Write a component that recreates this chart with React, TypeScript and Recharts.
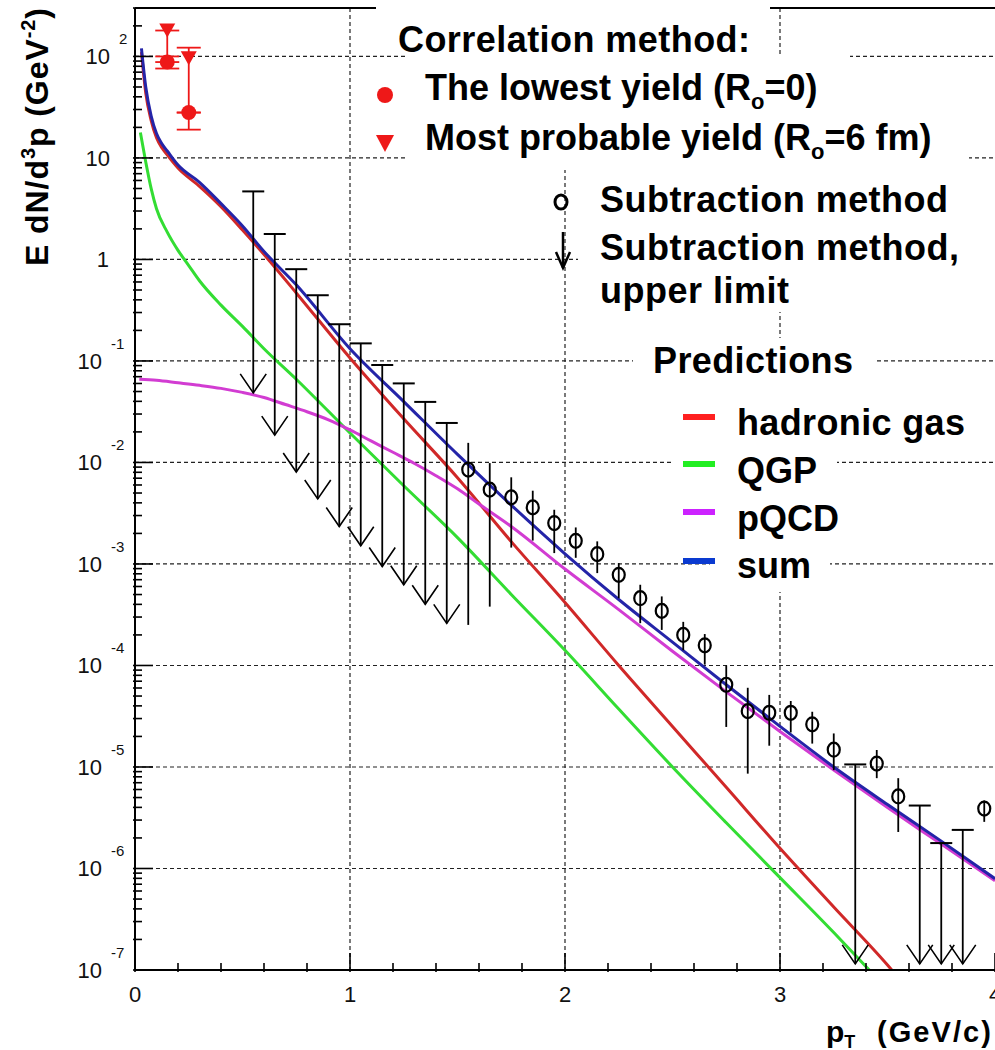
import React from 'react';
import {
  ComposedChart,
  Line,
  Scatter,
  ErrorBar,
  XAxis,
  YAxis,
  CartesianGrid,
  ReferenceLine,
} from 'recharts';

const W = 995;
const H = 1050;
const FONT = '"Liberation Sans", Arial, Helvetica, sans-serif';

// predictions: E dN/d^3p (GeV^-2) vs pT (GeV/c)
const hadronicPt = [0.03, 0.05, 0.075, 0.1, 0.125, 0.15, 0.2, 0.3, 0.4, 0.5, 0.62, 0.75, 1.0, 1.25, 1.5, 1.75, 2.0, 2.25, 2.5, 2.75, 3.0, 3.25, 3.5, 3.52];
const hadronicVal = [110, 43.6, 23.4, 15.8, 12.6, 10.7, 7.94, 5.25, 3.31, 1.95, 1.0, 0.468, 0.107, 0.0269, 0.00708, 0.00166, 4.17e-4, 1.0e-4, 2.51e-5, 6.31e-6, 1.58e-6, 4.17e-7, 1.12e-7, 1.0e-7];

const qgpPt = [0.025, 0.05, 0.075, 0.1, 0.15, 0.2, 0.25, 0.3, 0.4, 0.5, 0.6, 0.75, 1.0, 1.25, 1.5, 1.75, 2.0, 2.25, 2.5, 2.75, 3.0, 3.25, 3.415];
const qgpVal = [17.8, 9.12, 5.01, 3.16, 1.86, 1.23, 0.871, 0.617, 0.355, 0.219, 0.132, 0.0661, 0.0195, 0.00589, 0.00182, 5.01e-4, 1.41e-4, 3.72e-5, 1.0e-5, 2.82e-6, 8.13e-7, 2.34e-7, 1.0e-7];

const pqcdPt = [0.02, 0.1, 0.2, 0.3, 0.4, 0.5, 0.6, 0.7, 0.8, 0.9, 1.0, 1.1, 1.2, 1.3, 1.4, 1.5, 1.6, 1.75, 2.0, 2.25, 2.5, 2.75, 3.0, 3.25, 3.5, 3.75, 4.0];
const pqcdVal = [0.0661, 0.0646, 0.061, 0.0575, 0.0537, 0.049, 0.0437, 0.0372, 0.0316, 0.0263, 0.0209, 0.0162, 0.0126, 0.00977, 0.00741, 0.0055, 0.00389, 0.00234, 8.91e-4, 3.55e-4, 1.38e-4, 5.5e-5, 2.24e-5, 9.33e-6, 3.98e-6, 1.74e-6, 7.59e-7];

const sumPt = [0.03, 0.05, 0.075, 0.1, 0.125, 0.15, 0.2, 0.3, 0.4, 0.5, 0.6, 0.75, 1.0, 1.25, 1.5, 1.75, 2.0, 2.25, 2.5, 2.75, 3.0, 3.25, 3.5, 3.75, 4.0];
const sumVal = [120, 50, 26, 17.4, 13.8, 11.7, 8.5, 5.75, 3.55, 2.14, 1.2, 0.562, 0.132, 0.0398, 0.012, 0.0038, 0.00126, 4.47e-4, 1.7e-4, 6.46e-5, 2.51e-5, 1.0e-5, 4.27e-6, 1.86e-6, 7.94e-7];

// subtraction method (open circles), with error bar ends
const subPt = [1.55, 1.65, 1.75, 1.85, 1.95, 2.05, 2.15, 2.25, 2.35, 2.45, 2.55, 2.65, 2.75, 2.85, 2.95, 3.05, 3.15, 3.25, 3.45, 3.55, 3.95];
const subVal = [8.51e-3, 5.4e-3, 4.53e-3, 3.61e-3, 2.53e-3, 1.69e-3, 1.25e-3, 7.82e-4, 4.6e-4, 3.45e-4, 2.0e-4, 1.58e-4, 6.46e-5, 3.55e-5, 3.42e-5, 3.42e-5, 2.63e-5, 1.48e-5, 1.08e-5, 5.13e-6, 3.89e-6];
const subLow = [2.51e-4, 3.8e-4, 1.45e-3, 1.7e-3, 1.28e-3, 1.15e-3, 8.13e-4, 4.6e-4, 2.61e-4, 2.24e-4, 1.41e-4, 1.02e-4, 2.48e-5, 8.6e-6, 1.62e-5, 2.19e-5, 1.7e-5, 9.3e-6, 7.76e-6, 2.29e-6, 2.88e-6];
const subHigh = [1.56e-2, 9.86e-3, 7.14e-3, 5.27e-3, 3.42e-3, 2.29e-3, 1.67e-3, 1.02e-3, 6.24e-4, 4.79e-4, 2.69e-4, 2.04e-4, 1.0e-4, 6.03e-5, 5.13e-5, 4.47e-5, 3.5e-5, 2.14e-5, 1.47e-5, 7.76e-6, 4.68e-6];

// subtraction method, upper limits (cap value and arrow tip)
const ulPt = [0.55, 0.65, 0.75, 0.85, 0.95, 1.05, 1.15, 1.25, 1.35, 1.45, 3.35, 3.65, 3.75, 3.85];
const ulTop = [4.68, 1.78, 0.802, 0.444, 0.23, 0.149, 0.0912, 0.0601, 0.0395, 0.0245, 1.06e-5, 4.17e-6, 1.78e-6, 2.4e-6];
const ulTip = [0.0485, 0.0186, 8.05e-3, 4.37e-3, 2.34e-3, 1.51e-3, 9.44e-4, 6.24e-4, 4.01e-4, 2.6e-4, 1.15e-7, 1.15e-7, 1.15e-7, 1.15e-7];

// correlation method
const corrPt = [0.15, 0.25];
const lowestVal = [88, 28];
const lowestLow = [76, 19];
const lowestHigh = [100, 28];
const probableVal = [180, 96];
const probableLow = [88, 28];
const probableHigh = [180, 122];

const xTicks = [0, 0.2, 0.4, 0.6, 0.8, 1, 1.2, 1.4, 1.6, 1.8, 2, 2.2, 2.4, 2.6, 2.8, 3, 3.2, 3.4, 3.6, 3.8, 4];
const xGrid = [1, 2, 3];
const yDecades = [1e-7, 1e-6, 1e-5, 1e-4, 1e-3, 1e-2, 1e-1, 1, 10, 100];
const yMantissa = [1, 2, 3, 4, 5, 6, 7, 8, 9];
const yTicks = yDecades
  .flatMap((d) => yMantissa.map((m) => Number((m * d).toPrecision(3))))
  .filter((v) => v <= 300);

const toLine = (pt: number[], val: number[]) => pt.map((x, i) => ({ x, y: val[i] }));
const toPoints = (pt: number[], val: number[], low: number[], high: number[]) =>
  pt.map((x, i) => ({ x, y: val[i], err: [val[i] - low[i], high[i] - val[i]] }));

const hadronic = toLine(hadronicPt, hadronicVal);
const qgp = toLine(qgpPt, qgpVal);
const pqcd = toLine(pqcdPt, pqcdVal);
const sum = toLine(sumPt, sumVal);
const subtraction = toPoints(subPt, subVal, subLow, subHigh);
const limitCaps = ulPt.map((x, i) => ({ x, y: ulTop[i], err: [ulTop[i] - ulTip[i], 0] }));
const limitTips = ulPt.map((x, i) => ({ x, y: ulTip[i] }));
const lowest = toPoints(corrPt, lowestVal, lowestLow, lowestHigh);
const probable = toPoints(corrPt, probableVal, probableLow, probableHigh);

const RED = '#ee1818';

const XTick = (props: any) => {
  const { x, y, payload } = props;
  const v = payload.value;
  const major = Math.abs(v - Math.round(v)) < 1e-6;
  return (
    <g>
      <line x1={x} y1={y} x2={x} y2={y - (major ? 19 : 9)} stroke="#000" strokeWidth={1.6} />
      {major && (
        <text x={x} y={y + 30} textAnchor="middle" fontSize={22} fontFamily={FONT} fill="#111">
          {Math.round(v)}
        </text>
      )}
    </g>
  );
};

const YTick = (props: any) => {
  const { x, y, payload } = props;
  const v = payload.value;
  const k = Math.floor(Math.log10(v) + 1e-6);
  const m = Math.round(v / Math.pow(10, k));
  const major = m === 1;
  let label = null;
  if (major) {
    if (k === 0) {
      label = (
        <text x={x - 24} y={y + 8} textAnchor="end" fontSize={22} fontFamily={FONT} fill="#111">1</text>
      );
    } else if (k === 1) {
      label = (
        <text x={x - 23} y={y + 8} textAnchor="end" fontSize={22} fontFamily={FONT} fill="#111">10</text>
      );
    } else {
      const neg = k < 0;
      label = (
        <g>
          <text x={x - (neg ? 31 : 23)} y={y + 8} textAnchor="end" fontSize={22} fontFamily={FONT} fill="#111">10</text>
          <text x={x - (neg ? 22 : 14)} y={y - 12} textAnchor="start" fontSize={15} fontFamily={FONT} fill="#111">
            {String(k)}
          </text>
        </g>
      );
    }
  }
  return (
    <g>
      <line x1={x} y1={y} x2={x + (major ? 20 : 9)} y2={y} stroke="#000" strokeWidth={1.6} />
      {label}
    </g>
  );
};

const OpenCircle = (p: any) => (
  <ellipse cx={p.cx} cy={p.cy} rx={6} ry={7} fill="none" stroke="#000" strokeWidth={2.2} />
);
const RedDot = (p: any) => <circle cx={p.cx} cy={p.cy} r={7.5} fill={RED} />;
const RedTriangle = (p: any) => (
  <polygon
    points={`${p.cx - 8},${p.cy - 7} ${p.cx + 8},${p.cy - 7} ${p.cx},${p.cy + 7}`}
    fill={RED}
  />
);
const LimitCap = (p: any) => (
  <line x1={p.cx - 11} y1={p.cy} x2={p.cx + 11} y2={p.cy} stroke="#000" strokeWidth={2} />
);
const LimitHead = (p: any) => (
  <polyline
    points={`${p.cx - 13},${p.cy - 19} ${p.cx},${p.cy} ${p.cx + 13},${p.cy - 19}`}
    fill="none"
    stroke="#000"
    strokeWidth={1.6}
  />
);

const legendText = { fontFamily: FONT, fontSize: 36, fontWeight: 700, fill: '#000' } as const;

const Overlay = () => (
  <svg width={W} height={H} style={{ position: 'absolute', left: 0, top: 0, pointerEvents: 'none' }}>
    {/* white text boxes that hide the grid */}
    <rect x={376} y={0} width={394} height={54} fill="#fff" />
    <rect x={406} y={54} width={444} height={64} fill="#fff" />
    <rect x={406} y={118} width={563} height={52} fill="#fff" />
    <rect x={578} y={170} width={417} height={142} fill="#fff" />
    <rect x={633} y={338} width={242} height={50} fill="#fff" />
    <rect x={730} y={388} width={240} height={60} fill="#fff" />
    <rect x={672} y={448} width={165} height={48} fill="#fff" />
    <rect x={730} y={496} width={120} height={49} fill="#fff" />
    <rect x={710} y={545} width={120} height={47} fill="#fff" />

    <text x={398} y={52} {...legendText} textLength={352}>Correlation method:</text>

    <circle cx={385} cy={95} r={8} fill={RED} />
    <text x={425} y={100} {...legendText}>
      The lowest yield (R<tspan fontSize={22} dy={9}>o</tspan>
      <tspan dy={-9}>=0)</tspan>
    </text>

    <polygon points="376,135 394,135 385,152" fill={RED} />
    <text x={425} y={150} {...legendText}>
      Most probable yield (R<tspan fontSize={22} dy={9}>o</tspan>
      <tspan dy={-9}>=6 fm)</tspan>
    </text>

    <ellipse cx={561} cy={202} rx={6} ry={7} fill="none" stroke="#000" strokeWidth={3} />
    <text x={600} y={212} {...legendText} textLength={348}>Subtraction method</text>

    <line x1={563} y1={232} x2={563} y2={268} stroke="#000" strokeWidth={2.5} />
    <polyline points="556,252 563,268 570,252" fill="none" stroke="#000" strokeWidth={2.5} />
    <text x={600} y={260} {...legendText} textLength={359}>Subtraction method,</text>
    <text x={600} y={303} {...legendText} textLength={189}>upper limit</text>

    <text x={653} y={373} {...legendText} textLength={200}>Predictions</text>

    <rect x={683} y={414} width={32} height={6} fill="#ff2020" />
    <text x={737} y={435} {...legendText} textLength={228}>hadronic gas</text>
    <rect x={683} y={461} width={32} height={6} fill="#22ee22" />
    <text x={737} y={483} {...legendText}>QGP</text>
    <rect x={683} y={509} width={32} height={6} fill="#cc22ff" />
    <text x={737} y={531} {...legendText}>pQCD</text>
    <rect x={683} y={558} width={32} height={6} fill="#0a3ad0" />
    <text x={737} y={578} {...legendText}>sum</text>

    {/* axis titles */}
    <text x={826} y={1042} fontFamily={FONT} fontSize={30} fontWeight={700}>
      p<tspan fontSize={18} dy={6}>T</tspan>
    </text>
    <text x={877} y={1042} fontFamily={FONT} fontSize={29} fontWeight={700} textLength={114}>(GeV/c)</text>

    <text
      transform="translate(48, 266) rotate(-90)"
      fontFamily={FONT}
      fontSize={32}
      fontWeight={700}
      textLength={258}
    >
      E dN/d<tspan fontSize={20} dy={-13}>3</tspan>
      <tspan dy={13}>p (GeV</tspan>
      <tspan fontSize={20} dy={-13}>-2</tspan>
      <tspan dy={13}>)</tspan>
    </text>
  </svg>
);

export default function App() {
  return (
    <div
      style={{
        position: 'absolute',
        left: 0,
        top: 0,
        width: W,
        height: H,
        overflow: 'hidden',
        background: '#fff',
      }}
    >
      <ComposedChart width={W} height={H} margin={{ top: 8, right: 0, bottom: 0, left: 0 }}>
        <CartesianGrid
          horizontalValues={yDecades}
          verticalValues={xGrid}
          stroke="#222"
          strokeWidth={1.2}
          strokeDasharray="4 3"
        />
        <XAxis
          type="number"
          dataKey="x"
          domain={[0, 4]}
          ticks={xTicks}
          interval={0}
          tickSize={0}
          tickLine={false}
          tick={(p: any) => <XTick {...p} />}
          axisLine={{ stroke: '#000', strokeWidth: 2 }}
          height={80}
          allowDataOverflow
        />
        <YAxis
          type="number"
          scale="log"
          domain={[1e-7, 300]}
          ticks={yTicks}
          interval={0}
          tickSize={0}
          tickLine={false}
          tick={(p: any) => <YTick {...p} />}
          axisLine={{ stroke: '#000', strokeWidth: 2 }}
          width={135}
          allowDataOverflow
        />
        <ReferenceLine y={300} stroke="#000" strokeWidth={2} />

        <Line data={hadronic} dataKey="y" type="monotone" stroke="#d02828" strokeWidth={3} dot={false} isAnimationActive={false} />
        <Line data={qgp} dataKey="y" type="monotone" stroke="#33dd33" strokeWidth={3} dot={false} isAnimationActive={false} />
        <Line data={pqcd} dataKey="y" type="monotone" stroke="#d23cd2" strokeWidth={3} dot={false} isAnimationActive={false} />
        <Line data={sum} dataKey="y" type="monotone" stroke="#2424a8" strokeWidth={3} dot={false} isAnimationActive={false} />

        <Scatter data={limitCaps} dataKey="y" shape={(p: any) => <LimitCap {...p} />} isAnimationActive={false}>
          <ErrorBar dataKey="err" direction="y" width={0} stroke="#000" strokeWidth={1.8} />
        </Scatter>
        <Scatter data={limitTips} dataKey="y" shape={(p: any) => <LimitHead {...p} />} isAnimationActive={false} />

        <Scatter data={subtraction} dataKey="y" shape={(p: any) => <OpenCircle {...p} />} isAnimationActive={false}>
          <ErrorBar dataKey="err" direction="y" width={0} stroke="#000" strokeWidth={1.8} />
        </Scatter>

        <Scatter data={probable} dataKey="y" shape={(p: any) => <RedTriangle {...p} />} isAnimationActive={false}>
          <ErrorBar dataKey="err" direction="y" width={12} stroke={RED} strokeWidth={1.8} />
        </Scatter>
        <Scatter data={lowest} dataKey="y" shape={(p: any) => <RedDot {...p} />} isAnimationActive={false}>
          <ErrorBar dataKey="err" direction="y" width={12} stroke={RED} strokeWidth={1.8} />
        </Scatter>
      </ComposedChart>
      <Overlay />
    </div>
  );
}
